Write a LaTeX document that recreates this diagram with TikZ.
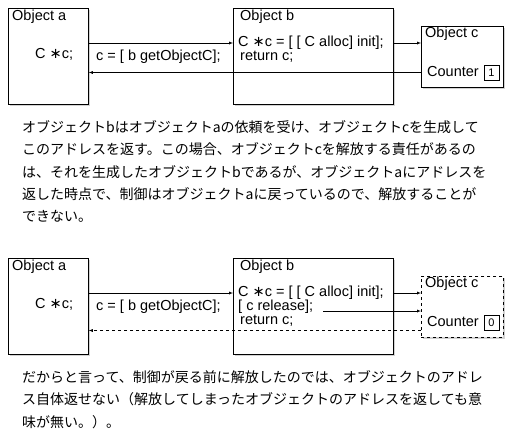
\documentclass[tikz,border=0pt]{standalone}
\usepackage{fontspec}
\setmainfont{Noto Sans CJK JP}
\newfontfamily\labelfont{Liberation Sans}
\newfontfamily\symfont{DejaVu Sans}
\newcommand{\ptr}{{\symfont ∗}}
\usetikzlibrary{shadows}
\tikzset{
  objbox/.style={draw, fill=white, thick, anchor=north west, inner sep=0pt,
    drop shadow={shadow xshift=2pt, shadow yshift=-2pt, fill=black!35}},
  cntbox/.style={draw, anchor=center, minimum width=15pt, minimum height=15pt, inner sep=0pt,
    font=\labelfont\fontsize{11}{12}\selectfont},
  lbl/.style={anchor=west, inner sep=0pt, font=\labelfont\fontsize{14.5}{16}\selectfont},
  memo/.style={anchor=north west, inner sep=0pt, align=left, font=\fontsize{14}{22.4}\selectfont}
}
\begin{document}
\begin{tikzpicture}[x=1pt, y=-1pt, >=latex]
                        \useasboundingbox (0, 0) rectangle (518, 442);
                        % upper case: c is handed back
                        \node [objbox, minimum width=80pt, minimum height=96pt] (a1) at (8, 8) {};
                        \node [objbox, minimum width=160pt, minimum height=96pt] (b1) at (233, 8) {};
                        \node [objbox, minimum width=82pt, minimum height=61pt] (c1) at (421, 26) {};
                        \node [lbl] (a1name) at (12, 17) {Object a};
                        \node [lbl] (a1decl) at (35, 54) {C \ptr c;};
                        \node [lbl] (a1call) at (96, 57) {c = [ b getObjectC];};
                        \node [lbl] (b1name) at (240, 17) {Object b};
                        \node [lbl] (b1init) at (238, 43) {C \ptr c = [ [ C alloc] init];};
                        \node [lbl] (b1ret) at (240, 57) {return c;};
                        \node [lbl] (c1name) at (425, 34) {Object c};
                        \node [lbl] (c1cnt) at (427, 72) {Counter};
                        \node [cntbox] (c1val) at (491.5, 72.5) {1};
                        \draw [->] (a1.east |- b1init.west) -- (b1.west |- b1init.west);
                        \draw [->] ([xshift=9pt]b1init.east) -- (c1.west |- b1init.east);
                        \draw [->] (c1.west |- c1val.center) -- (a1.east |- c1val.center);
                        \node [memo] (memo1) at (22, 120) {オブジェクトbはオブジェクトaの依頼を受け、オブジェクトcを生成して\\
                          このアドレスを返す。この場合、オブジェクトcを解放する責任があるの\\
                          は、それを生成したオブジェクトbであるが、オブジェクトaにアドレスを\\
                          返した時点で、制御はオブジェクトaに戻っているので、解放することが\\
                          できない。};
                        % lower case: c is released first
                        \node [objbox, minimum width=80pt, minimum height=96pt] (a2) at (8, 258) {};
                        \node [objbox, minimum width=160pt, minimum height=96pt] (b2) at (233, 258) {};
                        \node [objbox, dashed, minimum width=82pt, minimum height=61pt] (c2) at (421, 276) {};
                        \node [lbl] (a2name) at (12, 267) {Object a};
                        \node [lbl] (a2decl) at (35, 304) {C \ptr c;};
                        \node [lbl] (a2call) at (96, 307) {c = [ b getObjectC];};
                        \node [lbl] (b2name) at (240, 267) {Object b};
                        \node [lbl] (b2init) at (238, 293) {C \ptr c = [ [ C alloc] init];};
                        \node [lbl] (b2rel) at (238, 307) {[ c release];};
                        \node [lbl] (b2ret) at (240, 321) {return c;};
                        \node [lbl] (c2name) at (425, 284) {Object c};
                        \node [lbl] (c2cnt) at (427, 322) {Counter};
                        \node [cntbox] (c2val) at (491.5, 322.5) {0};
                        \coordinate (relpt) at ([xshift=10pt, yshift=-4pt]b2rel.east);
                        \coordinate (retpt) at ([yshift=-8pt]c2val.center);
                        \draw [->] (a2.east |- b2init.west) -- (b2.west |- b2init.west);
                        \draw [->] ([xshift=9pt]b2init.east) -- (c2.west |- b2init.east);
                        \draw [->] (relpt) -- (c2.west |- relpt);
                        \draw [->, dashed] (c2.west |- retpt) -- (a2.east |- retpt);
                        \node [memo] (memo2) at (22, 370) {だからと言って、制御が戻る前に解放したのでは、オブジェクトのアドレ\\
                          ス自体返せない（解放してしまったオブジェクトのアドレスを返しても意\\
                          味が無い。）。};
                    \end{tikzpicture}
\end{document}
